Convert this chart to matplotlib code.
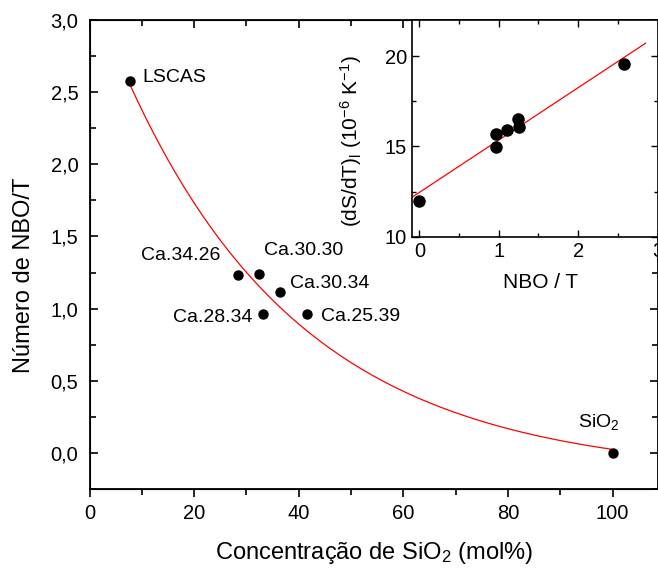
import numpy as np
import matplotlib
matplotlib.use("Agg")
import matplotlib.pyplot as plt
from matplotlib.ticker import MultipleLocator, FixedLocator, FixedFormatter

plt.rcParams['font.family'] = ['Liberation Sans', 'DejaVu Sans']
plt.rcParams['mathtext.fontset'] = 'custom'
plt.rcParams['mathtext.rm'] = 'Liberation Sans'
plt.rcParams['mathtext.it'] = 'Liberation Sans:italic'

# ---- main data ----
labels = ['LSCAS', 'Ca.34.26', 'Ca.30.30', 'Ca.30.34', 'Ca.28.34', 'Ca.25.39', 'SiO$_2$']
sio2 = [7.8, 28.4, 32.5, 36.5, 33.2, 41.6, 100.0]
nbo_t = [2.58, 1.235, 1.24, 1.115, 0.96, 0.965, 0.0]

# exponential decay fit parameters (y = y0 + A*exp(-x/t))
fit_A = 3.399
fit_t = 34.0
fit_y0 = -0.155
fit_range = [7.9, 99.8]

main_yticks = [0.0, 0.5, 1.0, 1.5, 2.0, 2.5, 3.0]
main_yticklabels = ['0,0', '0,5', '1,0', '1,5', '2,0', '2,5', '3,0']
main_xticks = [0, 20, 40, 60, 80, 100]

# ---- inset data ----
inset_x = [0.0, 0.962, 0.966, 1.11, 1.24, 1.26, 2.58]
inset_y = [12.0, 15.68, 14.98, 15.9, 16.51, 16.07, 19.57]
inset_fit_range = [-0.1, 2.85]

# text offsets in pixels (dx, dy, ha)
offsets = [(12, 3, 'left'), (-18, 19, 'right'), (5, 23, 'left'), (10, 9, 'left'),
           (-11, -3, 'right'), (14, -3, 'left'), (-35, 26, 'left')]

W, H = 658, 568
fig = plt.figure(figsize=(W / 100, H / 100), dpi=100)

L, R, T, B = 89.5, 657.5, 20, 489
ax = fig.add_axes([L / W, 1 - B / H, (R - L) / W, (B - T) / H])
ax.set_xlim(0, 108.6)
ax.set_ylim(-0.25, 3.0)

xf = np.linspace(fit_range[0], fit_range[1], 300)
ax.plot(xf, fit_y0 + fit_A * np.exp(-xf / fit_t), color='red', lw=0.9, zorder=2)
ax.plot(sio2, nbo_t, 'o', color='black', ms=6.5, zorder=3)

for (x, y, lab, (dx, dy, ha)) in zip(sio2, nbo_t, labels, offsets):
    va = 'baseline' if 'SiO' in lab else 'center'
    ax.annotate(lab, xy=(x, y), xytext=(dx, dy), textcoords='offset pixels',
                ha=ha, va=va, fontsize=14)

ax.yaxis.set_major_locator(FixedLocator(main_yticks))
ax.yaxis.set_major_formatter(FixedFormatter(main_yticklabels))
ax.yaxis.set_minor_locator(MultipleLocator(0.25))
ax.xaxis.set_major_locator(FixedLocator(main_xticks))
ax.xaxis.set_minor_locator(MultipleLocator(10))

ax.tick_params(axis='y', which='both', direction='in', left=True, right=True, labelsize=14.5, pad=8)
ax.tick_params(axis='x', which='both', direction='out', bottom=True, top=False, labelsize=14.5, pad=5)
ax.tick_params(which='major', length=6, width=1.2)
ax.tick_params(which='minor', length=4, width=1.2)
for s in ax.spines.values():
    s.set_linewidth(1.3)

ax.set_xlabel('Concentração de SiO$_2$ (mol%)', fontsize=17, labelpad=12)
ax.set_ylabel('Número de NBO/T', fontsize=17)
ax.yaxis.set_label_coords((35 - L) / (R - L), (B - 275) / (B - T))

# top ticks inward
axt = ax.twiny()
axt.set_xlim(ax.get_xlim())
axt.xaxis.set_major_locator(FixedLocator(main_xticks))
axt.xaxis.set_minor_locator(MultipleLocator(10))
axt.tick_params(axis='x', which='both', direction='in', labeltop=False)
axt.tick_params(which='major', length=6, width=1.2)
axt.tick_params(which='minor', length=4, width=1.2)

# ---- inset ----
iL, iR, iT, iB = 411.7, 657.5, 20, 236.7
axi = fig.add_axes([iL / W, 1 - iB / H, (iR - iL) / W, (iB - iT) / H])
axi.set_xlim(-0.097, 3.0)
axi.set_ylim(10, 22)
slope, icpt = np.polyfit(inset_x, inset_y, 1)
xi = np.array(inset_fit_range)
axi.plot(xi, icpt + slope * xi, color='red', lw=0.9, zorder=2)
axi.plot(inset_x, inset_y, 'o', color='black', ms=8, zorder=3)
axi.xaxis.set_major_locator(MultipleLocator(1))
axi.xaxis.set_minor_locator(MultipleLocator(0.5))
axi.yaxis.set_major_locator(MultipleLocator(5))
axi.yaxis.set_minor_locator(MultipleLocator(2.5))
axi.tick_params(which='both', direction='in', top=True, right=True, labelsize=14.5)
axi.tick_params(which='major', length=5, width=1.0)
axi.tick_params(which='minor', length=3, width=1.0)
for s in axi.spines.values():
    s.set_linewidth(1.2)
axi.set_xlabel('NBO / T', fontsize=15)
axi.xaxis.set_label_coords((540.8 - iL) / (iR - iL), (iB - 273) / (iB - iT))
axi.set_ylabel('(dS/dT)$_\\mathregular{l}$ (10$^\\mathregular{-6}$ K$^\\mathregular{-1}$)', fontsize=15)
axi.yaxis.set_label_coords((364 - iL) / (iR - iL), (iB - 141) / (iB - iT))

fig.savefig('out.png', dpi=100)
